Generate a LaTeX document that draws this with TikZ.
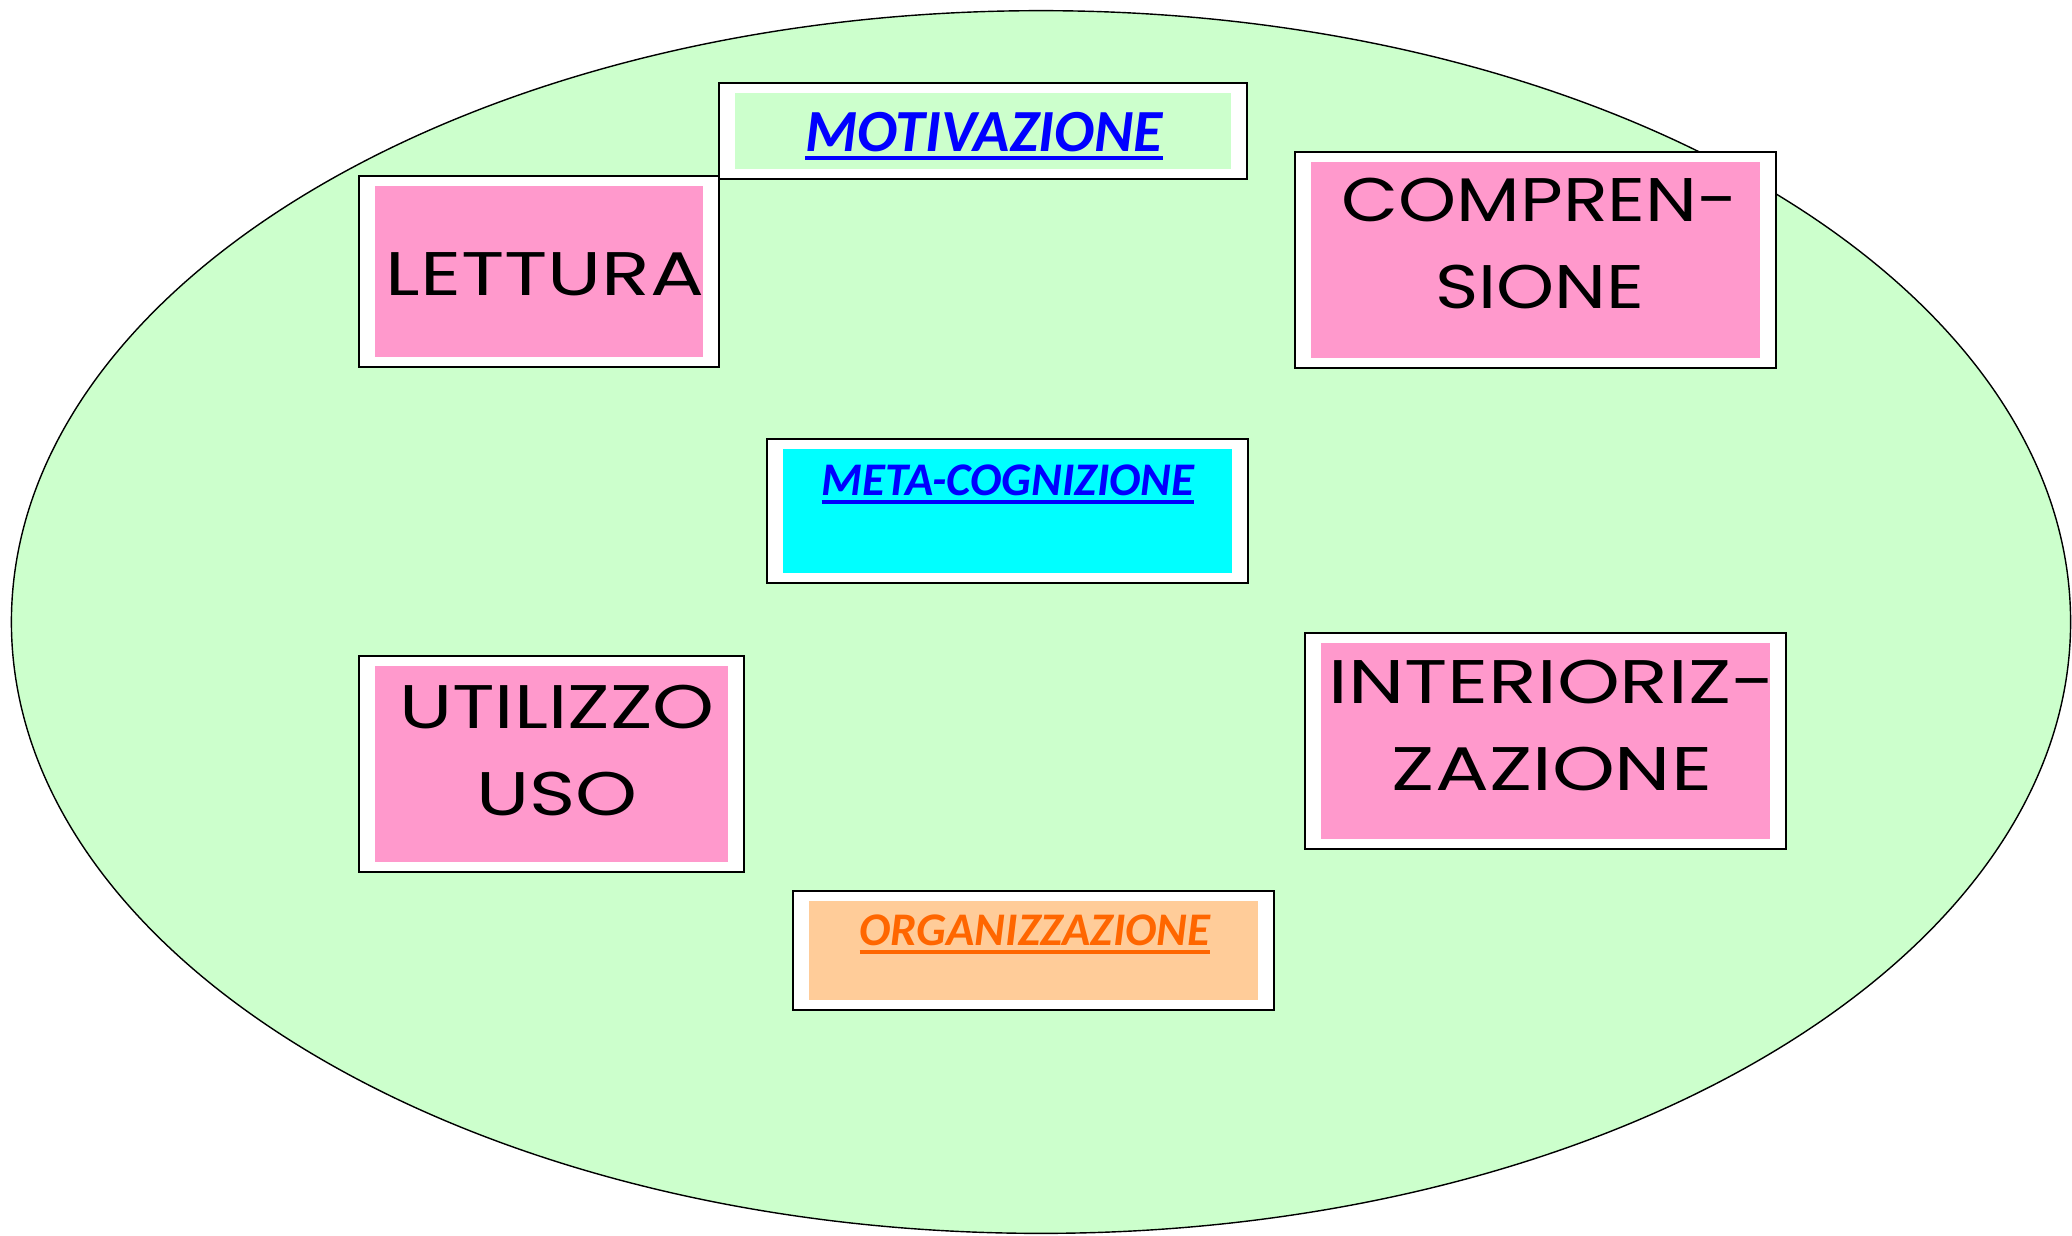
\documentclass[tikz,border=0pt]{standalone}
\usepackage{fontspec}
\usepackage{tikz}
\usetikzlibrary{shapes}
\newfontfamily\calibri{Carlito}
\newfontfamily\mano{Poppins}
\definecolor{verdino}{HTML}{CCFFCC}
\definecolor{rosa}{HTML}{FF99CC}
\definecolor{azzurro}{HTML}{00FFFF}
\definecolor{pesca}{HTML}{FFCC99}
\definecolor{arancio}{HTML}{FF6600}
\tikzstyle{sfondo}=[fill=verdino, draw, line width=.4pt]
\tikzstyle{cornice}=[draw, fill=white, line width=.6pt, inner sep=0]
\tikzstyle{scritta}=[font=\mano\fontsize{17.5}{24.7}\selectfont, align=center, anchor=base, inner sep=0, transform shape]
\tikzstyle{titolo}=[font=\calibri\bfseries\itshape, anchor=base, inner sep=0]
\newcommand{\sottolinea}[1]{\setbox0\hbox{#1}\rlap{\rule[-2.55pt]{\wd0}{1.1pt}}\box0}
\newcommand{\riquadro}[5]{
 \node[cornice, minimum width=#3cm, minimum height=#4cm] (#1) at #2 {};
 \node[fill=#5, inner sep=0, minimum width=#3cm-.32cm, minimum height=#4cm-.2cm] (#1-dentro) at (#1) {};
}

\begin{document}
\begin{tikzpicture}[x=.01cm, y=-.01cm]
 \useasboundingbox (0,0) rectangle (2072,1235);
 \draw[sfondo] (1041,622) ellipse (10.29cm and 6.11cm);
%
 \riquadro{motivazione}{(983,131)}{5.28}{.96}{verdino}
 \riquadro{lettura}{(539,271.5)}{3.60}{1.91}{rosa}
 \riquadro{comprensione}{(1535.5,260)}{4.81}{2.16}{rosa}
 \riquadro{metacognizione}{(1007.5,511)}{4.81}{1.44}{azzurro}
 \riquadro{utilizzo}{(551.5,764)}{3.85}{2.16}{rosa}
 \riquadro{interiorizzazione}{(1545.5,741)}{4.81}{2.16}{rosa}
 \riquadro{organizzazione}{(1033.5,950.5)}{4.81}{1.19}{pesca}
%
 \node[titolo, text=blue] (t-motivazione) at (984,151) {\fontsize{17}{20}\selectfont\sottolinea{MOTIVAZIONE}};
 \node[titolo, text=blue] (t-metacognizione) at (1008,495) {\fontsize{13.3}{16}\selectfont\sottolinea{META-COGNIZIONE}};
 \node[titolo, text=arancio] (t-organizzazione) at (1035,945) {\fontsize{13.3}{16}\selectfont\sottolinea{ORGANIZZAZIONE}};
%
 \node[scritta, xscale=1.3] (t-lettura) at (545,295) {LETTURA};
 \node[scritta, xscale=1.2] (t-comprensione) at (1540,308) {COMPREN-\\SIONE};
 \node[scritta, xscale=1.28] (t-utilizzo) at (557,815) {UTILIZZO\\USO};
 \node[scritta, xscale=1.3] (t-interiorizzazione) at (1552,790) {INTERIORIZ-\\ZAZIONE};
\end{tikzpicture}
\end{document}
